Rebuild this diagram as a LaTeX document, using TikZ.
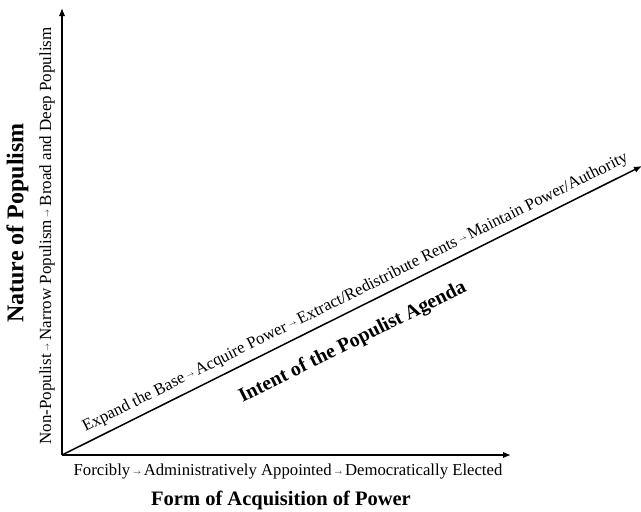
\documentclass[tikz,border=0pt]{standalone}
\usepackage{fontspec}
\setmainfont{Liberation Serif}
\usetikzlibrary{arrows.meta}
\newcommand{\sarr}{\,\raisebox{0.25ex}{\scriptsize$\rightarrow$}\,}
\begin{document}
\begin{tikzpicture}[x=1pt,y=-1pt,
  axis/.style={line width=1.5pt,-{Latex[length=8pt,width=6.5pt]}},
  lbl/.style={font=\fontsize{16.7}{18}\selectfont,inner sep=0pt},
  ttl/.style={font=\fontsize{20}{22}\selectfont\bfseries,inner sep=0pt}]
\useasboundingbox (0,0) rectangle (641,512);
\coordinate (O) at (62,455);
\coordinate (Ytop) at (62,8);
\coordinate (Xend) at (511,455);
\coordinate (Dend) at (642,166);
\draw[axis] (O) -- (Ytop);
\draw[axis] (O) -- (Xend);
\draw[axis] (O) -- (Dend)
  node[pos=0.517,sloped,above=6pt,lbl] (dtext) {Expand the Base\sarr Acquire Power\sarr Extract/Redistribute Rents\sarr Maintain Power/Authority}
  node[pos=0.479,sloped,below=19pt,ttl] (dtitle) {Intent of the Populist Agenda};
\node[lbl] (xtext) at (288,472) {Forcibly\sarr Administratively Appointed\sarr Democratically Elected};
\node[ttl,font=\fontsize{20.5}{22}\selectfont\bfseries] (xtitle) at (281,500) {Form of Acquisition of Power};
\node[lbl,font=\fontsize{17}{18}\selectfont,rotate=90] (ytext) at (47,236) {Non-Populist\sarr Narrow Populism\sarr Broad and Deep Populism};
\node[ttl,font=\fontsize{24}{26}\selectfont\bfseries,rotate=90] (ytitle) at (17.5,223) {Nature of Populism};
\end{tikzpicture}
\end{document}
